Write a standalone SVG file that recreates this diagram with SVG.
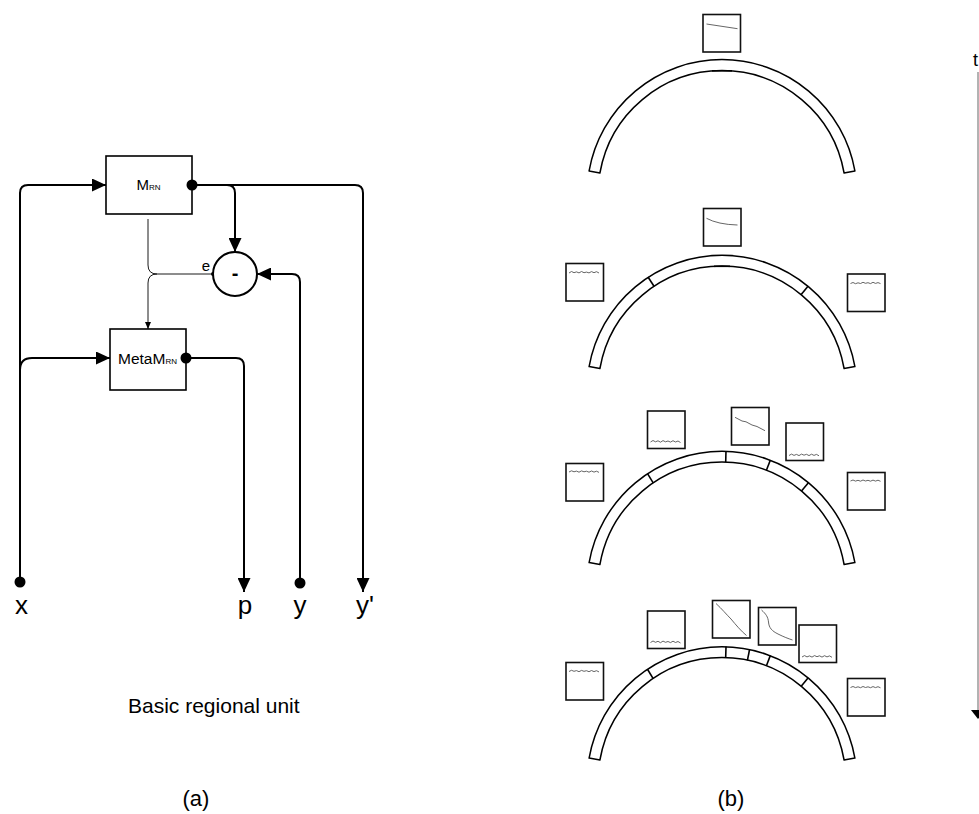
<svg xmlns="http://www.w3.org/2000/svg" width="979" height="814" viewBox="0 0 979 814">
<style>
  text { font-family: "Liberation Sans", Arial, sans-serif; fill: #000; }
  .box { fill: #fff; stroke: #000; stroke-width: 1.6; }
  .wire { fill: none; stroke: #000; stroke-width: 2; }
  .thin { fill: none; stroke: #000; stroke-width: 0.9; }
  .band { fill: #fff; stroke: #000; stroke-width: 1.5; stroke-linejoin: round; }
  .div { stroke: #000; stroke-width: 1.6; }
  .pbox { fill: #fff; stroke: #111; stroke-width: 1.6; }
  .plot { fill: none; stroke: #555; stroke-width: 0.9; }
  .lbl { font-size: 26px; text-anchor: middle; }
</style>
<defs>
  <marker id="arr" markerUnits="userSpaceOnUse" markerWidth="14" markerHeight="13" refX="14" refY="6.5" orient="auto">
    <path d="M0,0 L14,6.5 L0,13 z" fill="#000"/>
  </marker>
  <marker id="sarr" markerUnits="userSpaceOnUse" markerWidth="7" markerHeight="6" refX="7" refY="3" orient="auto">
    <path d="M0,0 L7,3 L0,6 z" fill="#000"/>
  </marker>
</defs>

<!-- (a) Basic regional unit -->
<g id="connectors">
  <path class="wire" d="M20,582 L20,193 Q20,185 28,185 L106,185" marker-end="url(#arr)"/>
  <path class="wire" d="M20,370 Q20,358 32,358 L110,358" marker-end="url(#arr)"/>
  <path class="wire" d="M192,185 L355,185 Q363,185 363,193 L363,592" marker-end="url(#arr)"/>
  <path class="wire" d="M192,185 L227,185 Q235,185 235,193 L235,252" marker-end="url(#arr)"/>
  <path class="wire" d="M300,583 L300,282 Q300,274 292,274 L257,274" marker-end="url(#arr)"/>
  <path class="wire" d="M186,358 L236,358 Q244,358 244,366 L244,592" marker-end="url(#arr)"/>
  <path class="thin" d="M213,274 L157,274 Q148,274 148,283 L148,329" marker-end="url(#sarr)"/>
  <path class="thin" d="M148,219 L148,265 Q148,274 157,274"/>
  <circle cx="20" cy="582" r="5.5" fill="#000"/>
  <circle cx="300" cy="583" r="5.5" fill="#000"/>
  <circle cx="213" cy="274" r="2" fill="#000"/>
</g>

<g id="node-mrn">
  <rect class="box" x="106" y="156" width="86" height="58"/>
  <text x="136.5" y="190" font-size="15">M<tspan font-size="8">RN</tspan></text>
  <circle cx="192" cy="185" r="5.5" fill="#000"/>
</g>

<g id="node-metam">
  <rect class="box" x="110" y="329" width="76" height="61"/>
  <text x="118" y="364" font-size="15.5">MetaM<tspan font-size="8">RN</tspan></text>
  <circle cx="186" cy="358" r="5.5" fill="#000"/>
</g>

<g id="node-minus">
  <circle cx="235" cy="274" r="22" fill="#fff" stroke="#000" stroke-width="2"/>
  <text x="235" y="280" font-size="20" font-weight="bold" text-anchor="middle">-</text>
  <text x="206" y="271" font-size="15" text-anchor="middle">e</text>
</g>

<g id="io-labels">
  <text class="lbl" x="21.5" y="614">x</text>
  <text class="lbl" x="245" y="614">p</text>
  <text class="lbl" x="300" y="614">y</text>
  <text class="lbl" x="365" y="614">y'</text>
</g>

<text x="128" y="713" font-size="21">Basic regional unit</text>
<text x="196" y="806" font-size="22" text-anchor="middle">(a)</text>
<text x="731" y="806" font-size="22" text-anchor="middle">(b)</text>

<!-- (b) arcs -->
<g id="arc1">
  <path class="band" d="M589.1,170.9 A135,135 0 0 1 854.9,170.9 L844.1,173 A124,124 0 0 0 599.9,173 Z"/>
  <path d="M712,70.8 L732,70.8" stroke="#000" stroke-width="1.6"/>
  <rect class="pbox" x="703" y="14.5" width="37.5" height="37.5"/>
  <path class="plot" d="M706.5,24 L737.5,28.7"/>
</g>

<g id="arc2">
  <path class="band" d="M589.1,366.6 A135,135 0 0 1 854.9,366.6 L844.1,368.5 A124,124 0 0 0 599.9,368.5 Z"/>
  <line class="div" x1="648" y1="277" x2="654" y2="286.3"/>
  <line class="div" x1="808.2" y1="286.1" x2="801.2" y2="294.6"/>
  <path d="M714,266.3 L730,266.3" stroke="#000" stroke-width="1.6"/>
  <rect class="pbox" x="703.5" y="208.5" width="37.5" height="37.5"/>
  <path class="plot" d="M706.5,218.3 Q718,224.5 737.5,225"/>
  <rect class="pbox" x="566" y="263.5" width="37.5" height="37.5"/>
  <path class="plot" d="M569,273 l2.5,-1.5 l2.5,1.2 l2.5,-0.8 l2.5,1 l2.5,-1.4 l2.5,1.2 l2.5,-0.6 l2.5,0.8 l2.5,-1.3 l2.5,1.1 l2.5,-1 l2.5,1.3"/>
  <rect class="pbox" x="847.5" y="274" width="37.5" height="37.5"/>
  <path class="plot" d="M850.5,283.5 l2.5,-1 l2.5,1.2 l2.5,-0.9 l2.5,0.7 l2.5,-1.2 l2.5,1 l2.5,-0.6 l2.5,0.9 l2.5,-1.3 l2.5,1.1 l2.5,-0.8 l2.5,1"/>
</g>

<g id="arc3">
  <path class="band" d="M589.1,562.6 A135,135 0 0 1 854.9,562.6 L844.1,564.5 A124,124 0 0 0 599.9,564.5 Z"/>
  <line class="div" x1="647.5" y1="473.6" x2="653.2" y2="482.9"/>
  <line class="div" x1="726" y1="451" x2="725.7" y2="462"/>
  <line class="div" x1="770.4" y1="460" x2="766.4" y2="470.2"/>
  <line class="div" x1="808.6" y1="482.6" x2="801.5" y2="491"/>
  <rect class="pbox" x="566" y="463.5" width="37.5" height="37.5"/>
  <path class="plot" d="M569,472 l2.5,-1.2 l2.5,1 l2.5,-0.7 l2.5,1.1 l2.5,-1.3 l2.5,0.9 l2.5,-0.6 l2.5,1 l2.5,-1.2 l2.5,1.1 l2.5,-0.9 l2.5,1.2"/>
  <rect class="pbox" x="647.5" y="411" width="37.5" height="37.5"/>
  <path class="plot" d="M650.5,442 l2.5,-1.5 l2.5,1.3 l2.5,-1 l2.5,1.4 l2.5,-1.6 l2.5,1.2 l2.5,-0.8 l2.5,1.1 l2.5,-1.4 l2.5,1.3 l2.5,-1 l2.5,1.5"/>
  <rect class="pbox" x="731.5" y="407.5" width="37.5" height="37.5"/>
  <path class="plot" d="M735,417.3 L742,421 L746,421.8 L752,425 L757,426.5 L765,430.7"/>
  <rect class="pbox" x="786" y="423" width="37.5" height="37.5"/>
  <path class="plot" d="M789,455.5 l2.5,-1.4 l2.5,1.3 l2.5,-1 l2.5,1.2 l2.5,-1.5 l2.5,1.1 l2.5,-0.9 l2.5,1.3 l2.5,-1.4 l2.5,1.2 l2.5,-1 l2.5,1.4"/>
  <rect class="pbox" x="847.5" y="472.5" width="37.5" height="37.5"/>
  <path class="plot" d="M850.5,481 l2.5,-1 l2.5,1.1 l2.5,-0.8 l2.5,0.9 l2.5,-1.2 l2.5,1 l2.5,-0.7 l2.5,0.9 l2.5,-1.1 l2.5,1 l2.5,-0.9 l2.5,1.1"/>
</g>

<g id="arc4">
  <path class="band" d="M589.1,758.1 A135,135 0 0 1 854.9,758.1 L844.1,760 A124,124 0 0 0 599.9,760 Z"/>
  <line class="div" x1="647.6" y1="669.5" x2="653.2" y2="678.6"/>
  <line class="div" x1="726" y1="646.6" x2="725.7" y2="657.6"/>
  <line class="div" x1="749.6" y1="649.4" x2="747.4" y2="660.3"/>
  <line class="div" x1="770.4" y1="655.4" x2="766.4" y2="665.7"/>
  <line class="div" x1="808.2" y1="677.7" x2="801.2" y2="686.2"/>
  <rect class="pbox" x="566" y="662.5" width="37.5" height="37.5"/>
  <path class="plot" d="M569,671.5 l2.5,-1.2 l2.5,1 l2.5,-0.7 l2.5,1.1 l2.5,-1.3 l2.5,0.9 l2.5,-0.6 l2.5,1 l2.5,-1.2 l2.5,1.1 l2.5,-0.9 l2.5,1.2"/>
  <rect class="pbox" x="647.5" y="611" width="37.5" height="37.5"/>
  <path class="plot" d="M650.5,642.5 l2.5,-1.5 l2.5,1.3 l2.5,-1 l2.5,1.4 l2.5,-1.6 l2.5,1.2 l2.5,-0.8 l2.5,1.1 l2.5,-1.4 l2.5,1.3 l2.5,-1 l2.5,1.5"/>
  <rect class="pbox" x="712.5" y="600.5" width="37.5" height="37.5"/>
  <path class="plot" d="M716,603.5 C722,609 726,614 731,619 C736,625 741,631 746.5,635.5"/>
  <rect class="pbox" x="758.5" y="607.5" width="37.5" height="37.5"/>
  <path class="plot" d="M761.5,610 C766,614 768,617 768.5,622 C769,628 772,631 778,634 C784,637 788,638.5 792.5,640"/>
  <rect class="pbox" x="799" y="625" width="37.5" height="37.5"/>
  <path class="plot" d="M802,657 l2.5,-1.4 l2.5,1.3 l2.5,-1 l2.5,1.2 l2.5,-1.5 l2.5,1.1 l2.5,-0.9 l2.5,1.3 l2.5,-1.4 l2.5,1.2 l2.5,-1 l2.5,1.4"/>
  <rect class="pbox" x="847.5" y="678.5" width="37.5" height="37.5"/>
  <path class="plot" d="M850.5,687.5 l2.5,-1 l2.5,1.1 l2.5,-0.8 l2.5,0.9 l2.5,-1.2 l2.5,1 l2.5,-0.7 l2.5,0.9 l2.5,-1.1 l2.5,1 l2.5,-0.9 l2.5,1.1"/>
</g>

<g id="time-axis">
  <text x="973" y="66" font-size="18">t</text>
  <line x1="978" y1="72" x2="978" y2="711" stroke="#666" stroke-width="1"/>
  <polygon points="971,710 985,710 978,719" fill="#000"/>
</g>
</svg>
